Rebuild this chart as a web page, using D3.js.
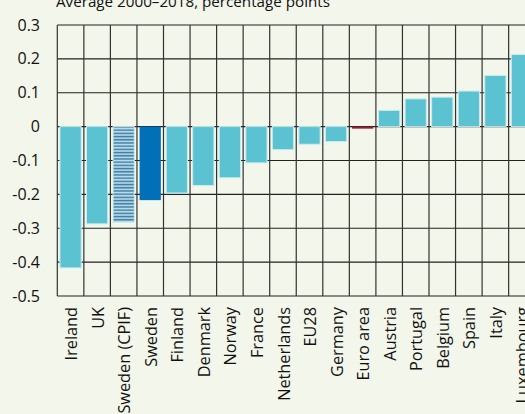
<!DOCTYPE html>
<html>
<head>
<meta charset="utf-8">
<script src="https://cdn.jsdelivr.net/npm/d3@7"></script>
<style>
  html, body { margin: 0; padding: 0; background: #f3f6ea; overflow: hidden; }
  svg { display: block; font-family: "Open Sans", "Noto Sans", sans-serif; }
</style>
</head>
<body>
<svg id="chart" width="525" height="414"></svg>
<script>
const countries = ["Ireland", "UK", "Sweden (CPIF)", "Sweden", "Finland", "Denmark", "Norway", "France",
  "Netherlands", "EU28", "Germany", "Euro area", "Austria", "Portugal", "Belgium", "Spain", "Italy", "Luxembourg"];
const values = [-0.417, -0.287, -0.282, -0.217, -0.196, -0.174, -0.151, -0.107,
  -0.068, -0.052, -0.044, -0.006, 0.048, 0.082, 0.087, 0.105, 0.151, 0.213];
// special highlighted bars
const highlight = { "Sweden (CPIF)": "cpif", "Sweden": "sweden", "Euro area": "ea" };
const yTicks = [0.3, 0.2, 0.1, 0, -0.1, -0.2, -0.3, -0.4, -0.5];
const yTickLabels = ["0.3", "0.2", "0.1", "0", "-0.1", "-0.2", "-0.3", "-0.4", "-0.5"];
const title = "Average 2000\u20132018, percentage points";

const margin = { top: 25, left: 57.3, bottom: 296 };
const bandW = 26.55;

const svg = d3.select("#chart");

const x = d3.scaleBand()
  .domain(countries)
  .range([margin.left, margin.left + bandW * countries.length])
  .paddingInner(0.2)
  .paddingOuter(0.1);

const y = d3.scaleLinear()
  .domain([-0.5, 0.3])
  .range([margin.bottom, margin.top]);

// striped pattern for Sweden (CPIF)
const defs = svg.append("defs");
const pat = defs.append("pattern")
  .attr("id", "stripes")
  .attr("patternUnits", "userSpaceOnUse")
  .attr("width", 10)
  .attr("height", 3.2);
pat.append("rect").attr("width", 10).attr("height", 3.2).attr("fill", "#b9e0ec");
pat.append("rect").attr("y", 1.4).attr("width", 10).attr("height", 1.5).attr("fill", "#3f7aa3");

const right = margin.left + bandW * countries.length;

// horizontal grid
svg.append("g")
  .selectAll("line")
  .data(yTicks)
  .join("line")
  .attr("x1", margin.left)
  .attr("x2", right)
  .attr("y1", d => y(d))
  .attr("y2", d => y(d))
  .attr("stroke", "#222")
  .attr("stroke-width", 1.2);

// vertical grid at band edges
const edges = d3.range(countries.length + 1).map(i => margin.left + i * bandW);
svg.append("g")
  .selectAll("line")
  .data(edges)
  .join("line")
  .attr("x1", d => d)
  .attr("x2", d => d)
  .attr("y1", margin.top)
  .attr("y2", margin.bottom)
  .attr("stroke", "#333")
  .attr("stroke-width", 1.2);

// bars
const fillFor = c => {
  const h = highlight[c];
  if (h === "cpif") return "url(#stripes)";
  if (h === "sweden") return "#0070b8";
  if (h === "ea") return "#a51b2e";
  return "#5bc2d1";
};
const strokeFor = c => {
  const h = highlight[c];
  if (h === "sweden" || h === "ea") return "none";
  return "#c9ecef";
};

svg.append("g")
  .selectAll("rect")
  .data(countries.map((c, i) => ({ c, v: values[i] })))
  .join("rect")
  .attr("x", d => x(d.c))
  .attr("width", x.bandwidth())
  .attr("y", d => y(Math.max(0, d.v)))
  .attr("height", d => Math.abs(y(d.v) - y(0)))
  .attr("fill", d => fillFor(d.c))
  .attr("stroke", d => strokeFor(d.c))
  .attr("stroke-width", 1);

// y tick labels
svg.append("g")
  .selectAll("text")
  .data(yTicks)
  .join("text")
  .attr("x", 40)
  .attr("y", d => y(d))
  .attr("dy", "0.35em")
  .attr("text-anchor", "end")
  .attr("font-size", 16)
  .attr("fill", "#111")
  .text((d, i) => yTickLabels[i]);

// x labels, rotated
svg.append("g")
  .selectAll("text")
  .data(countries)
  .join("text")
  .attr("transform", d => `translate(${x(d) + x.bandwidth() / 2},307) rotate(-90)`)
  .attr("dy", "0.4em")
  .attr("text-anchor", "end")
  .attr("font-size", 16.3)
  .attr("fill", "#111")
  .text(d => d);

// subtitle (cut at top like the source)
svg.append("text")
  .attr("x", 56)
  .attr("y", 7)
  .attr("font-size", 15.2)
  .attr("fill", "#111")
  .text(title);
</script>
</body>
</html>
